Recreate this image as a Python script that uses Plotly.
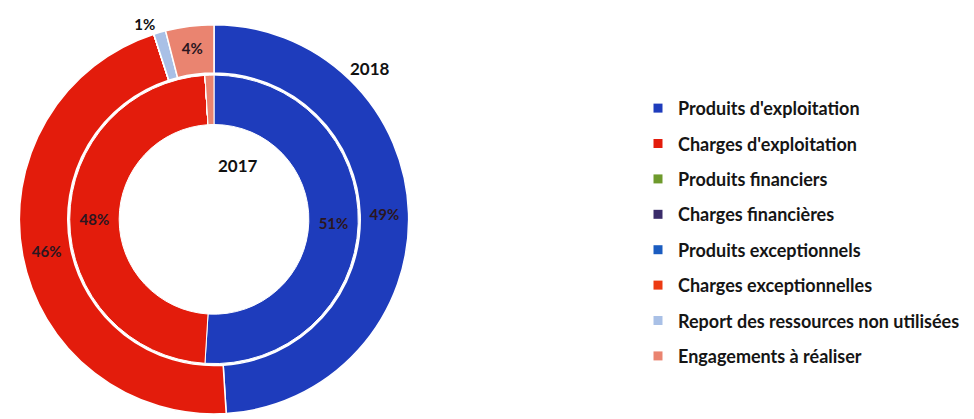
import plotly.graph_objects as go

categories = [
    "Produits d'exploitation",
    "Charges d'exploitation",
    "Produits financiers",
    "Charges financières",
    "Produits exceptionnels",
    "Charges exceptionnelles",
    "Report des ressources non utilisées",
    "Engagements à réaliser",
]
colors = ["#1e3cbc", "#e31c0c", "#6e9a2c", "#3a2c6a", "#1a5cc0", "#ec3a12", "#a9c0e6", "#ea8470"]

values_2018 = [49, 46, 0, 0, 0, 0, 1, 4]
values_2017 = [51, 48, 0, 0, 0, 0, 0, 1]

labels_2018 = ["<b>49%</b>", "<b>46%</b>", "", "", "", "", "<b>1%</b>", "<b>4%</b>"]
labels_2017 = ["<b>51%</b>", "<b>48%</b>", "", "", "", "", "", ""]
pos_2018 = ["inside", "inside", "inside", "inside", "inside", "inside", "outside", "inside"]

W, H = 974, 419
cx, cy = 214, 222          # centre in px (from top)
r_out, r_mid_out, r_in_out, r_hole = 197, 148, 146, 96

def dom(r):
    return dict(x=[(cx - r) / W, (cx + r) / W],
                y=[(H - cy - r) / H, (H - cy + r) / H])

fig = go.Figure()

fig.add_trace(go.Pie(
    labels=categories, values=values_2018, text=labels_2018,
    textinfo="text", textposition=pos_2018, sort=False, direction="clockwise",
    rotation=0, hole=r_mid_out / r_out, domain=dom(r_out),
    marker=dict(colors=colors, line=dict(color="white", width=1.5)),
    insidetextorientation="horizontal",
    insidetextfont=dict(family="Lato", size=15, color="#2b1620"),
    outsidetextfont=dict(family="Lato", size=15, color="#111111"),
    showlegend=False, name="2018",
))

fig.add_trace(go.Pie(
    labels=categories, values=values_2017, text=labels_2017,
    textinfo="text", textposition="inside", sort=False, direction="clockwise",
    rotation=0, hole=r_hole / r_in_out, domain=dom(r_in_out),
    marker=dict(colors=colors, line=dict(color="white", width=1)),
    insidetextorientation="horizontal",
    insidetextfont=dict(family="Lato", size=15, color="#2b1620"),
    showlegend=False, name="2017",
))

# legend entries
for i, (cat, col) in enumerate(zip(categories, colors)):
    fig.add_trace(go.Scatter(
        x=[None], y=[None], mode="markers", name=cat, legendgroup=str(i),
        marker=dict(symbol="square", size=9, color=col),
    ))

fig.add_annotation(x=216 / W, y=(H - 168) / H, xref="paper", yref="paper",
                   text="<b>2017</b>", showarrow=False,
                   font=dict(family="Lato", size=17, color="#111111"))
fig.add_annotation(x=370 / W, y=(H - 57) / H, xref="paper", yref="paper",
                   text="<b>2018</b>", showarrow=False,
                   font=dict(family="Lato", size=17, color="#111111"))

fig.update_layout(
    width=W, height=H,
    margin=dict(l=0, r=0, t=0, b=0),
    paper_bgcolor="white", plot_bgcolor="white",
    xaxis=dict(visible=False), yaxis=dict(visible=False),
    legend=dict(x=638 / W, y=(H - 91) / H, xanchor="left", yanchor="top",
                traceorder="grouped", tracegroupgap=9,
                font=dict(family="Lato", size=18, color="#151515", weight="bold"),
                bgcolor="rgba(0,0,0,0)"),
)

fig.write_html("out.html")
